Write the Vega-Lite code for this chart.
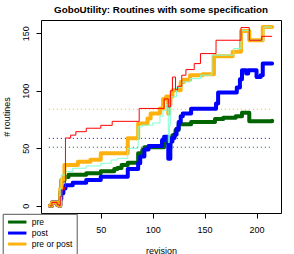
{
  "$schema": "https://vega.github.io/schema/vega-lite/v6.json",
  "width": 240,
  "height": 193,
  "autosize": {"type": "none"},
  "padding": {"left": 41, "top": 20, "right": 13, "bottom": 41},
  "background": "white",
  "config": {
    "font": "Liberation Sans",
    "view": {"stroke": "black", "strokeWidth": 1},
    "axis": {
      "domain": false, "grid": false, "tickColor": "black", "tickSize": 5,
      "labelFont": "Liberation Sans", "labelFontSize": 9, "labelColor": "black",
      "titleFont": "Liberation Sans", "titleFontSize": 9, "titleFontWeight": "normal", "titleColor": "black"
    }
  },
  "title": {
    "text": "GoboUtility: Routines with some specification",
    "font": "Liberation Sans", "fontSize": 9.8, "fontWeight": "bold", "color": "black",
    "anchor": "middle", "frame": "group", "offset": 6, "baseline": "alphabetic", "dy": 9
  },
  "datasets": {
    "refs": [
      {"series": "pre or post", "revision": 0, "end": 215, "value": 84},
      {"series": "post", "revision": 0, "end": 215, "value": 58.7},
      {"series": "pre", "revision": 0, "end": 215, "value": 51}
    ],
    "lines": [
      {"series": "pre", "revision": 1, "value": 0},
      {"series": "pre", "revision": 3, "value": 3},
      {"series": "pre", "revision": 8, "value": 1},
      {"series": "pre", "revision": 10, "value": 0},
      {"series": "pre", "revision": 11, "value": 12},
      {"series": "pre", "revision": 12, "value": 22},
      {"series": "pre", "revision": 15, "value": 25},
      {"series": "pre", "revision": 19, "value": 27},
      {"series": "pre", "revision": 36, "value": 28.3},
      {"series": "pre", "revision": 50, "value": 30},
      {"series": "pre", "revision": 63, "value": 32},
      {"series": "pre", "revision": 66, "value": 33},
      {"series": "pre", "revision": 70, "value": 35.6},
      {"series": "pre", "revision": 76, "value": 37.5},
      {"series": "pre", "revision": 86, "value": 45.7},
      {"series": "pre", "revision": 90, "value": 48.6},
      {"series": "pre", "revision": 92, "value": 51},
      {"series": "pre", "revision": 111, "value": 55},
      {"series": "pre", "revision": 114, "value": 58.7},
      {"series": "pre", "revision": 116, "value": 50},
      {"series": "pre", "revision": 117, "value": 58},
      {"series": "pre", "revision": 119, "value": 61.5},
      {"series": "pre", "revision": 122, "value": 66},
      {"series": "pre", "revision": 125, "value": 71},
      {"series": "pre", "revision": 137, "value": 73},
      {"series": "pre", "revision": 160, "value": 75.5},
      {"series": "pre", "revision": 168, "value": 76.6},
      {"series": "pre", "revision": 180, "value": 78},
      {"series": "pre", "revision": 186, "value": 81},
      {"series": "pre", "revision": 193, "value": 73.5},
      {"series": "pre", "revision": 215, "value": 74},
      {"series": "post", "revision": 1, "value": 0},
      {"series": "post", "revision": 3, "value": 3},
      {"series": "post", "revision": 8, "value": 1},
      {"series": "post", "revision": 10, "value": 0},
      {"series": "post", "revision": 11, "value": 6},
      {"series": "post", "revision": 12, "value": 11},
      {"series": "post", "revision": 14, "value": 15},
      {"series": "post", "revision": 16, "value": 18},
      {"series": "post", "revision": 23, "value": 20},
      {"series": "post", "revision": 36, "value": 22.5},
      {"series": "post", "revision": 50, "value": 25.4},
      {"series": "post", "revision": 76, "value": 32},
      {"series": "post", "revision": 86, "value": 37},
      {"series": "post", "revision": 88, "value": 43},
      {"series": "post", "revision": 92, "value": 49},
      {"series": "post", "revision": 96, "value": 52},
      {"series": "post", "revision": 109, "value": 57},
      {"series": "post", "revision": 111, "value": 60},
      {"series": "post", "revision": 115, "value": 41},
      {"series": "post", "revision": 117, "value": 56},
      {"series": "post", "revision": 119, "value": 59},
      {"series": "post", "revision": 121, "value": 62},
      {"series": "post", "revision": 123, "value": 67},
      {"series": "post", "revision": 125, "value": 73},
      {"series": "post", "revision": 127, "value": 78},
      {"series": "post", "revision": 129, "value": 80.3},
      {"series": "post", "revision": 137, "value": 84.5},
      {"series": "post", "revision": 161, "value": 89},
      {"series": "post", "revision": 163, "value": 98.5},
      {"series": "post", "revision": 181, "value": 103},
      {"series": "post", "revision": 184, "value": 110},
      {"series": "post", "revision": 186, "value": 118},
      {"series": "post", "revision": 190, "value": 115},
      {"series": "post", "revision": 192, "value": 118},
      {"series": "post", "revision": 200, "value": 112},
      {"series": "post", "revision": 204, "value": 113.6},
      {"series": "post", "revision": 206, "value": 123.7},
      {"series": "post", "revision": 215, "value": 123.7},
      {"series": "pre or post", "revision": 1, "value": 0},
      {"series": "pre or post", "revision": 3, "value": 3},
      {"series": "pre or post", "revision": 8, "value": 1},
      {"series": "pre or post", "revision": 10, "value": 0},
      {"series": "pre or post", "revision": 11, "value": 15},
      {"series": "pre or post", "revision": 12, "value": 23},
      {"series": "pre or post", "revision": 15, "value": 35.5},
      {"series": "pre or post", "revision": 28, "value": 38.4},
      {"series": "pre or post", "revision": 40, "value": 40},
      {"series": "pre or post", "revision": 50, "value": 45.7},
      {"series": "pre or post", "revision": 76, "value": 58.7},
      {"series": "pre or post", "revision": 86, "value": 71.7},
      {"series": "pre or post", "revision": 95, "value": 76},
      {"series": "pre or post", "revision": 98, "value": 80.3},
      {"series": "pre or post", "revision": 107, "value": 84.7},
      {"series": "pre or post", "revision": 110, "value": 93},
      {"series": "pre or post", "revision": 113, "value": 95},
      {"series": "pre or post", "revision": 115, "value": 80},
      {"series": "pre or post", "revision": 116, "value": 88},
      {"series": "pre or post", "revision": 117, "value": 95},
      {"series": "pre or post", "revision": 119, "value": 100.6},
      {"series": "pre or post", "revision": 127, "value": 107.7},
      {"series": "pre or post", "revision": 130, "value": 109.7},
      {"series": "pre or post", "revision": 136, "value": 113.6},
      {"series": "pre or post", "revision": 148, "value": 114.5},
      {"series": "pre or post", "revision": 159, "value": 130},
      {"series": "pre or post", "revision": 177, "value": 134},
      {"series": "pre or post", "revision": 185, "value": 152},
      {"series": "pre or post", "revision": 193, "value": 144},
      {"series": "pre or post", "revision": 206, "value": 155.5},
      {"series": "pre or post", "revision": 215, "value": 155.5},
      {"series": "spec", "revision": 1, "value": 0},
      {"series": "spec", "revision": 3, "value": 3},
      {"series": "spec", "revision": 8, "value": 1},
      {"series": "spec", "revision": 10, "value": 0},
      {"series": "spec", "revision": 11, "value": 15},
      {"series": "spec", "revision": 12, "value": 27},
      {"series": "spec", "revision": 16, "value": 29.8},
      {"series": "spec", "revision": 23, "value": 32.7},
      {"series": "spec", "revision": 36, "value": 34.7},
      {"series": "spec", "revision": 50, "value": 37},
      {"series": "spec", "revision": 60, "value": 39.9},
      {"series": "spec", "revision": 66, "value": 41.3},
      {"series": "spec", "revision": 76, "value": 50},
      {"series": "spec", "revision": 86, "value": 68.7},
      {"series": "spec", "revision": 90, "value": 70.2},
      {"series": "spec", "revision": 100, "value": 72},
      {"series": "spec", "revision": 107, "value": 78},
      {"series": "spec", "revision": 110, "value": 83},
      {"series": "spec", "revision": 113, "value": 88},
      {"series": "spec", "revision": 115, "value": 55},
      {"series": "spec", "revision": 116, "value": 70},
      {"series": "spec", "revision": 117, "value": 94.8},
      {"series": "spec", "revision": 123, "value": 103},
      {"series": "spec", "revision": 128, "value": 107.7},
      {"series": "spec", "revision": 136, "value": 110.6},
      {"series": "spec", "revision": 146, "value": 113.6},
      {"series": "spec", "revision": 157, "value": 131},
      {"series": "spec", "revision": 178, "value": 136.8},
      {"series": "spec", "revision": 185, "value": 152.6},
      {"series": "spec", "revision": 193, "value": 144},
      {"series": "spec", "revision": 207, "value": 155.5},
      {"series": "spec", "revision": 215, "value": 155.5},
      {"series": "all", "revision": 1, "value": 0},
      {"series": "all", "revision": 3, "value": 3},
      {"series": "all", "revision": 8, "value": 1},
      {"series": "all", "revision": 10, "value": 0},
      {"series": "all", "revision": 11, "value": 8},
      {"series": "all", "revision": 12, "value": 14},
      {"series": "all", "revision": 15, "value": 16},
      {"series": "all", "revision": 16, "value": 59},
      {"series": "all", "revision": 21, "value": 61.5},
      {"series": "all", "revision": 26, "value": 64.5},
      {"series": "all", "revision": 36, "value": 67.5},
      {"series": "all", "revision": 50, "value": 70},
      {"series": "all", "revision": 61, "value": 73.5},
      {"series": "all", "revision": 87, "value": 84.7},
      {"series": "all", "revision": 111, "value": 93},
      {"series": "all", "revision": 115, "value": 86},
      {"series": "all", "revision": 117, "value": 100},
      {"series": "all", "revision": 119, "value": 112},
      {"series": "all", "revision": 122, "value": 101},
      {"series": "all", "revision": 124, "value": 104},
      {"series": "all", "revision": 128, "value": 113.6},
      {"series": "all", "revision": 132, "value": 118.5},
      {"series": "all", "revision": 140, "value": 123.7},
      {"series": "all", "revision": 146, "value": 132.4},
      {"series": "all", "revision": 161, "value": 144},
      {"series": "all", "revision": 185, "value": 155},
      {"series": "all", "revision": 193, "value": 144},
      {"series": "all", "revision": 205, "value": 147.4},
      {"series": "all", "revision": 215, "value": 147.4}
    ]
  },
  "encoding": {
    "x": {
      "field": "revision", "type": "quantitative",
      "scale": {"domain": [-7.56, 223.56], "nice": false, "zero": false},
      "axis": {"values": [0, 50, 100, 150, 200], "title": "revision", "labelPadding": 7, "titlePadding": 12}
    },
    "y": {
      "field": "value", "type": "quantitative",
      "scale": {"domain": [-6.2, 161.6], "nice": false, "zero": false},
      "axis": {"values": [0, 50, 100, 150], "title": "# routines", "labelAngle": -90, "labelAlign": "center", "labelBaseline": "bottom", "labelPadding": 6, "titlePadding": 10}
    },
    "color": {
      "field": "series", "type": "nominal",
      "scale": {"domain": ["pre", "post", "pre or post", "spec", "all"], "range": ["#006400", "#0000FF", "#FFB20F", "#7FFFD4", "#FF0000"]},
      "legend": {
        "orient": "none", "legendX": -38.3, "legendY": 193.8, "title": null,
        "values": ["pre", "post", "pre or post"],
        "symbolType": "M-1.16,0H6.2", "symbolStrokeWidth": 3, "symbolSize": 25,
        "labelFont": "Liberation Sans", "labelFontSize": 8.5, "labelColor": "black",
        "fillColor": "white", "strokeColor": "#555555", "padding": 4, "labelOffset": 16.6, "rowPadding": -4.2
      }
    }
  },
  "layer": [
    {
      "data": {"name": "refs"},
      "mark": {"type": "rule", "strokeDash": [1, 3], "strokeWidth": 1},
      "encoding": {"x2": {"field": "end"}}
    },
    {
      "data": {"name": "lines"},
      "transform": [{"filter": {"field": "series", "oneOf": ["pre", "post", "pre or post"]}}],
      "mark": {"type": "line", "interpolate": "step-after", "strokeWidth": 4, "strokeCap": "round", "strokeJoin": "round"}
    },
    {
      "data": {"name": "lines"},
      "transform": [{"filter": {"field": "series", "oneOf": ["spec", "all"]}}],
      "mark": {"type": "line", "interpolate": "step-after", "strokeWidth": 1}
    }
  ]
}
